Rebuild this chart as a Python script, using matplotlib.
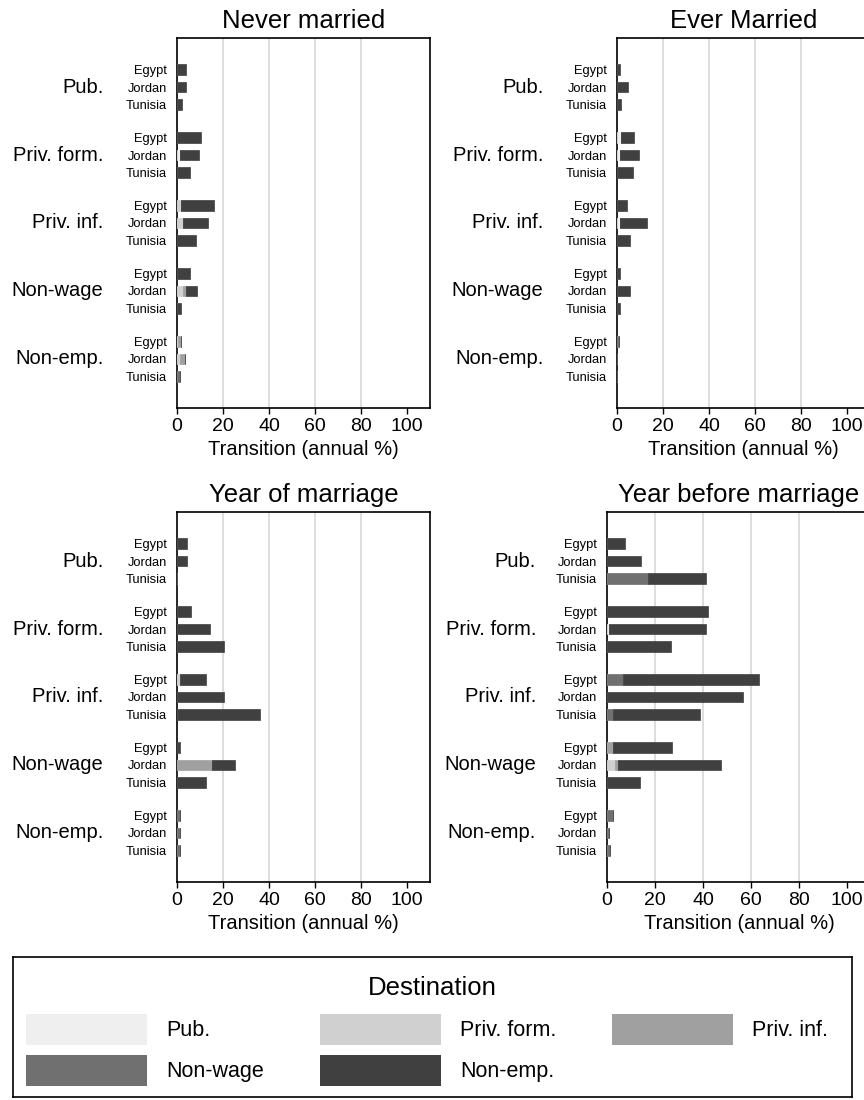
import matplotlib
matplotlib.use('Agg')
import matplotlib.pyplot as plt
import numpy as np
from matplotlib.patches import Rectangle

plt.rcParams['font.family'] = ['Liberation Sans', 'DejaVu Sans']

# origin states (rows) and destinations (stack segments)
states = ['Pub.', 'Priv. form.', 'Priv. inf.', 'Non-wage', 'Non-emp.']
countries = ['Egypt', 'Jordan', 'Tunisia']
dest_colors = ['#efefef', '#d0d0d0', '#a0a0a0', '#707070', '#404040']

# annual transition %, by destination; 15 rows = origin x country
# (Pub: E,J,T | Priv. form: E,J,T | Priv. inf: E,J,T | Non-wage: E,J,T | Non-emp: E,J,T)
never_married = {
    'Pub.':        [0, 0, 0,  0, 1.2, 0,  0, 0, 0,  0, 0, 0,  0, 0, 0],
    'Priv. form.': [0, 0, 0,  0, 0, 0,  1.8, 2.8, 0,  0, 2.6, 0,  0.4, 1.4, 0],
    'Priv. inf.':  [0, 0, 0,  0, 0, 0,  0, 0, 0,  0, 1.3, 0,  1.4, 1.9, 0],
    'Non-wage':    [0, 0, 0,  0, 0, 0,  0, 0, 0,  0, 0, 0,  0, 0, 1.2],
    'Non-emp.':    [3.7, 3.8, 2.3,  10.3, 8.3, 5.7,  14.2, 10.6, 8.3,  5.7, 5.0, 1.9,  0, 0, 0],
}
ever_married = {
    'Pub.':        [0, 0, 0,  1.9, 1.5, 0,  0, 1.5, 0,  0, 0, 0,  0, 0, 0],
    'Priv. form.': [0, 0, 0,  0, 0, 0,  0, 0, 0,  0, 0, 0,  0, 0, 0],
    'Priv. inf.':  [0, 0, 0,  0, 0, 0,  0, 0, 0,  0, 0, 0,  0, 0, 0],
    'Non-wage':    [0, 0, 0,  0, 0, 0,  0, 0, 0,  0, 0, 0,  1.0, 0, 0],
    'Non-emp.':    [1.2, 4.9, 1.7,  5.6, 8.0, 6.8,  4.2, 11.7, 5.5,  1.2, 5.5, 1.2,  0, 0, 0],
}
year_of_marriage = {
    'Pub.':        [0, 0, 0,  0, 0, 0,  0, 0, 0,  0, 0, 0,  0, 0, 0],
    'Priv. form.': [0, 0, 0,  0, 0, 0,  1.3, 0, 0,  0, 0, 0,  0, 0, 0],
    'Priv. inf.':  [0, 0, 0,  0, 0, 0,  0, 0, 0,  0, 15.0, 0,  0, 0, 0],
    'Non-wage':    [0, 0, 0,  0, 0, 0,  0, 0, 0,  0, 0, 0,  1.1, 1.1, 1.1],
    'Non-emp.':    [4.3, 4.3, 0,  6.2, 14.5, 20.3,  11.4, 20.3, 36.3,  1.1, 10.3, 12.7,  0, 0, 0],
}
year_before_marriage = {
    'Pub.':        [0, 0, 0,  0, 1.0, 0,  0, 0, 0,  0, 0, 0,  0, 0, 0],
    'Priv. form.': [0, 0, 0,  0, 0, 0,  0, 0, 0,  0, 3.2, 0,  0, 0, 0],
    'Priv. inf.':  [0, 0, 0,  0, 0, 0,  0, 0, 0,  2.4, 1.4, 0,  0, 0, 0],
    'Non-wage':    [0, 0, 17.1,  0, 0, 0,  6.5, 0, 2.4,  0, 0, 0,  2.5, 0.7, 1.25],
    'Non-emp.':    [7.4, 14.2, 24.3,  41.9, 40.4, 26.5,  57.0, 56.8, 36.5,  24.8, 42.9, 13.6,  0, 0, 0],
}

W, H = 864, 1100
# title, data, (left, top, width, height) in px, group label offset in pt
panels = [
    ('Never married', never_married, (177, 38, 253, 370), 53),
    ('Ever Married', ever_married, (617, 38, 253, 370), 53),
    ('Year of marriage', year_of_marriage, (177, 512, 253, 370), 53),
    ('Year before marriage', year_before_marriage, (607, 512, 264, 370), 51),
]

group_gap = 3.83
margin = 1.76
bar_h = 0.6
ypos = np.array([g * group_gap + c for g in range(len(states)) for c in range(len(countries))])

fig = plt.figure(figsize=(W / 100, H / 100), dpi=100)

for title, data, (l, t, w, h), goff in panels:
    ax = fig.add_axes([l / W, 1 - (t + h) / H, w / W, h / H])
    left = np.zeros(len(ypos))
    for dest, col in zip(states, dest_colors):
        vals = np.array(data[dest])
        ax.barh(ypos, vals, left=left, height=bar_h, color=col, edgecolor=col, linewidth=0.5, zorder=3)
        left += vals

    ax.set_xlim(0, 110)
    ax.set_ylim(ypos[-1] + margin, -margin)
    ax.set_xticks([0, 20, 40, 60, 80, 100])
    ax.grid(axis='x', color='#dddddd', linewidth=1.4, zorder=0)
    gl = ax.xaxis.get_gridlines()
    gl[0].set_visible(False)
    gl[-1].set_visible(False)
    ax.tick_params(axis='x', labelsize=14, length=4, width=1, pad=3)
    ax.set_yticks(ypos, labels=countries * len(states))
    ax.tick_params(axis='y', labelsize=9.3, length=0, pad=7.2)
    ax.set_xlabel('Transition (annual %)', fontsize=14.5, labelpad=4)
    ax.set_title(title, fontsize=18.5, pad=7)
    for s in ax.spines.values():
        s.set_linewidth(1.2)

    for g, st in enumerate(states):
        ax.annotate(st, xy=(0, ypos[g * 3 + 1]), xycoords=('axes fraction', 'data'),
                    xytext=(-goff, 0), textcoords='offset points',
                    ha='right', va='center', fontsize=14.5)

# legend box
lx, ly, lw, lh = 13, 957, 839, 140
lax = fig.add_axes([lx / W, 1 - (ly + lh) / H, lw / W, lh / H])
lax.set_xlim(0, lw)
lax.set_ylim(lh, 0)
lax.set_xticks([])
lax.set_yticks([])
for s in lax.spines.values():
    s.set_linewidth(1.2)
lax.text(lw / 2, 31, 'Destination', ha='center', va='center', fontsize=18.5)
col_x = [13, 307, 599]
row_y = [72, 113]
for i, (st, col) in enumerate(zip(states, dest_colors)):
    x0 = col_x[i % 3]
    yc = row_y[i // 3]
    lax.add_patch(Rectangle((x0, yc - 15.5), 121, 31, facecolor=col, edgecolor='none'))
    lax.text(x0 + 140, yc + 1, st, ha='left', va='center', fontsize=15.5)

fig.savefig('out.png', dpi=100)
